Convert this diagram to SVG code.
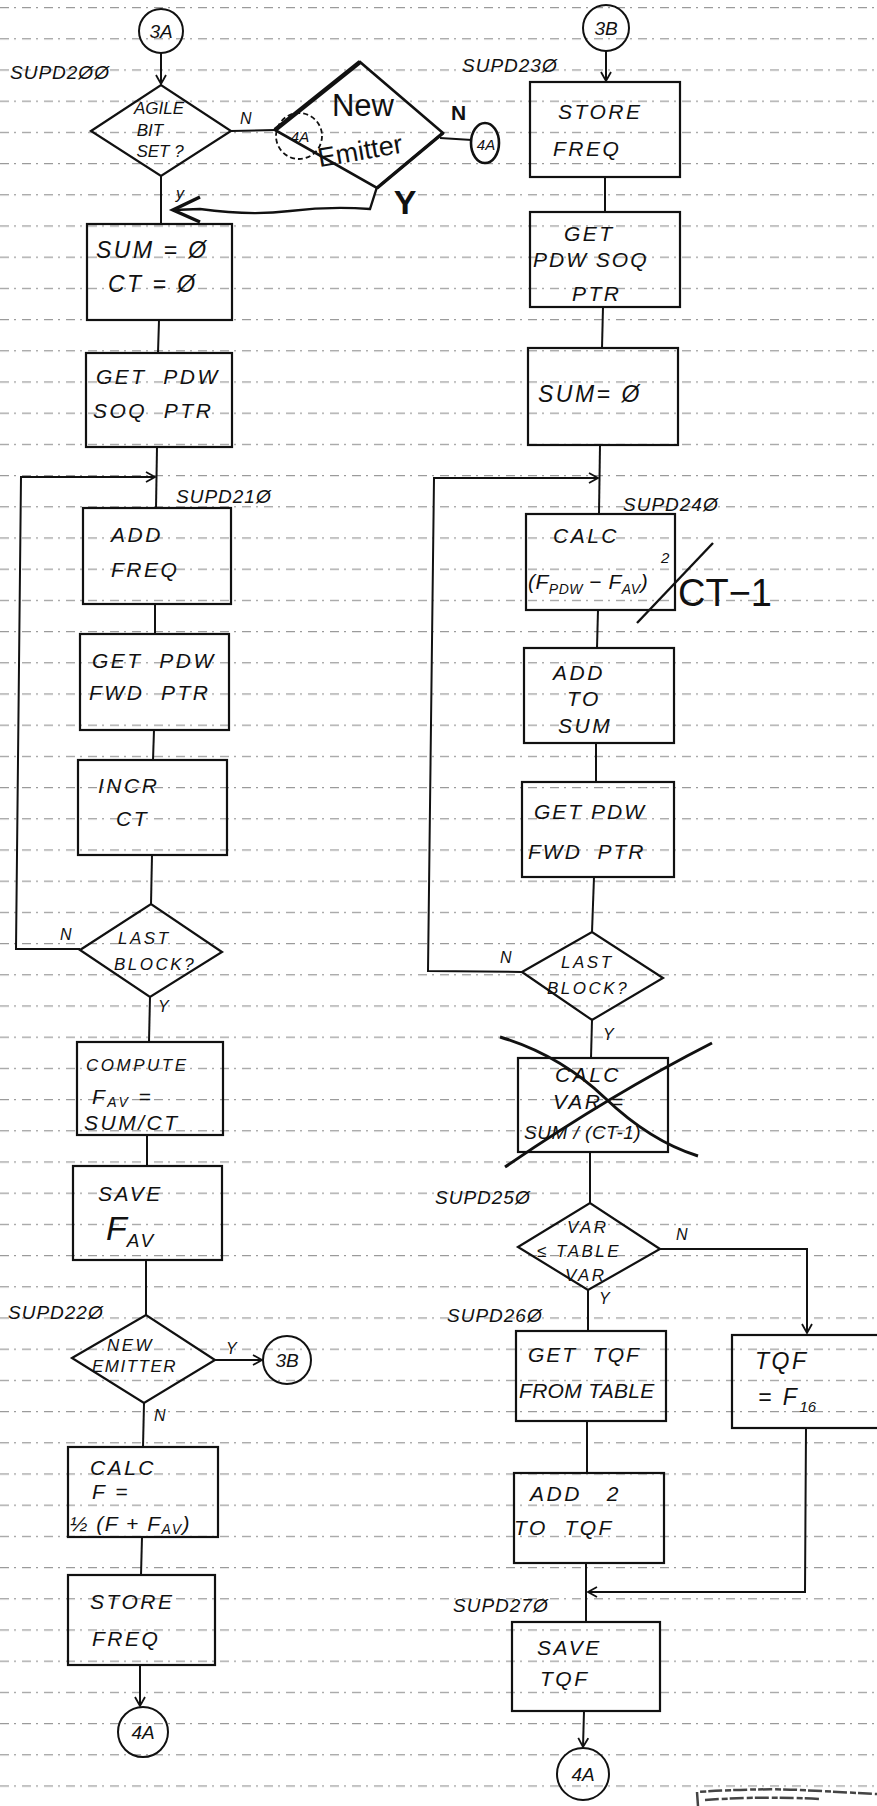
<svg xmlns="http://www.w3.org/2000/svg" width="877" height="1806" viewBox="0 0 877 1806" xml:space="preserve">
<defs>
<pattern id="grid" x="0" y="7" width="877" height="31.2" patternUnits="userSpaceOnUse">
<line x1="0" y1="0.5" x2="877" y2="0.5" stroke="#9a9a9a" stroke-width="1.2" stroke-dasharray="9 5 2 6"/>
</pattern>
<marker id="ah" markerWidth="12" markerHeight="12" refX="10" refY="6" orient="auto" markerUnits="userSpaceOnUse">
<path d="M1,1 L10,6 L1,11" fill="none" stroke="#111" stroke-width="1.8"/>
</marker>
<style>
.box{fill:none;stroke:#111;stroke-width:2.2}
.dia{fill:none;stroke:#111;stroke-width:2.2}
.cir{fill:none;stroke:#111;stroke-width:2}
.ln{fill:none;stroke:#111;stroke-width:2}
.t{font-family:"Liberation Sans",Arial,sans-serif;font-style:italic;font-size:21px;fill:#111;letter-spacing:2.5px;white-space:pre}
.s{font-size:17px}
.lb{font-family:"Liberation Sans",Arial,sans-serif;font-style:italic;font-size:19px;fill:#111;letter-spacing:1px}
.yn{font-family:"Liberation Sans",Arial,sans-serif;font-style:italic;font-size:16px;fill:#111}
.c{text-anchor:middle;letter-spacing:0}
</style>
</defs>
<rect width="877" height="1806" fill="#fff"/>
<rect width="877" height="1806" fill="url(#grid)"/>

<g id="connectors">
<line class="ln" x1="161" y1="53" x2="161" y2="84" marker-end="url(#ah)"/>
<line class="ln" x1="231" y1="131" x2="275" y2="130"/>
<line class="ln" x1="440" y1="138" x2="472" y2="140"/>
<path d="M377 187 L370 209 Q330 206 290 211 T200 209 L173 210" fill="none" stroke="#111" stroke-width="2.4"/>
<path d="M200 197 L173 210 L200 222" fill="none" stroke="#111" stroke-width="3.5"/>
<line class="ln" x1="161" y1="176" x2="161" y2="224"/>
<line class="ln" x1="159" y1="320" x2="158" y2="353"/>
<line class="ln" x1="157" y1="447" x2="156" y2="508"/>
<line class="ln" x1="155" y1="604" x2="155" y2="634"/>
<line class="ln" x1="154" y1="730" x2="153" y2="760"/>
<line class="ln" x1="152" y1="855" x2="151" y2="904"/>
<path class="ln" d="M80 949 L16 949 L21 477 L155 477" marker-end="url(#ah)"/>
<line class="ln" x1="150" y1="997" x2="149" y2="1042"/>
<line class="ln" x1="147" y1="1135" x2="147" y2="1166"/>
<line class="ln" x1="146" y1="1260" x2="146" y2="1315"/>
<line class="ln" x1="215" y1="1360" x2="262" y2="1360" marker-end="url(#ah)"/>
<line class="ln" x1="144" y1="1403" x2="143" y2="1447"/>
<line class="ln" x1="142" y1="1537" x2="141" y2="1575"/>
<line class="ln" x1="140" y1="1665" x2="140" y2="1706" marker-end="url(#ah)"/>

<line class="ln" x1="606" y1="51" x2="606" y2="81" marker-end="url(#ah)"/>
<line class="ln" x1="605" y1="177" x2="605" y2="212"/>
<line class="ln" x1="603" y1="307" x2="602" y2="348"/>
<line class="ln" x1="600" y1="445" x2="599" y2="514"/>
<line class="ln" x1="598" y1="610" x2="597" y2="648"/>
<line class="ln" x1="596" y1="743" x2="596" y2="782"/>
<line class="ln" x1="594" y1="877" x2="592" y2="932"/>
<path class="ln" d="M522 972 L428 971 L434 478 L598 478" marker-end="url(#ah)"/>
<line class="ln" x1="592" y1="1020" x2="591" y2="1058"/>
<line class="ln" x1="590" y1="1152" x2="590" y2="1203"/>
<path class="ln" d="M660 1249 L807 1249 L807 1333" marker-end="url(#ah)"/>
<line class="ln" x1="588" y1="1290" x2="588" y2="1331"/>
<line class="ln" x1="587" y1="1421" x2="587" y2="1473"/>
<path class="ln" d="M806 1428 L805 1592 L588 1592" marker-end="url(#ah)"/>
<line class="ln" x1="586" y1="1563" x2="586" y2="1622"/>
<line class="ln" x1="584" y1="1711" x2="583" y2="1747" marker-end="url(#ah)"/>
</g>

<g id="c3A">
<circle class="cir" cx="161" cy="31" r="22"/>
<text class="t c" x="161" y="38" style="font-size:19px">3A</text>
</g>
<text id="l200" class="lb" x="10" y="79">SUPD2ØØ</text>

<g id="agile">
<polygon class="dia" points="91,131 161,85 231,131 161,176"/>
<text class="t s c" x="159" y="114">AGILE</text>
<text class="t s c" x="150" y="136">BIT</text>
<text class="t s c" x="160" y="157">SET ?</text>
<text class="yn" x="240" y="124">N</text>
<text class="yn" x="176" y="199">y</text>
</g>

<g id="newEmitterHand">
<polygon points="275,130 360,62 443,133 377,188" fill="none" stroke="#111" stroke-width="2.6"/>
<line x1="275" y1="130" x2="360" y2="62" stroke="#111" stroke-width="4.5"/>
<line x1="443" y1="133" x2="377" y2="188" stroke="#111" stroke-width="3.5"/>
<text x="363" y="116" text-anchor="middle" style="font-family:'Liberation Sans',Arial,sans-serif;font-size:31px;fill:#111">New</text>
<text x="360" y="160" text-anchor="middle" transform="rotate(-10 360 150)" style="font-family:'Liberation Sans',Arial,sans-serif;font-size:27px;fill:#111">Emitter</text>
<text x="405" y="214" text-anchor="middle" style="font-family:'Liberation Sans',Arial,sans-serif;font-size:34px;font-weight:bold;fill:#111">Y</text>
</g>
<g id="c4A_dashed">
<circle cx="299" cy="136" r="23" fill="none" stroke="#111" stroke-width="1.8" stroke-dasharray="5 3"/>
<text class="t c" x="300" y="142" style="font-size:15px">4A</text>
</g>
<text id="nlabel2" x="451" y="120" style="font-family:'Liberation Sans',Arial,sans-serif;font-size:21px;font-weight:bold;fill:#111">N</text>
<g id="c4A_top">
<ellipse cx="485" cy="143" rx="14" ry="20" fill="none" stroke="#111" stroke-width="2.6"/>
<text class="t c" x="486" y="150" style="font-size:15px">4A</text>
</g>

<g id="sum0">
<rect class="box" x="87" y="224" width="145" height="96"/>
<text class="t" x="96" y="258" style="font-size:23px">SUM = Ø</text>
<text class="t" x="108" y="292" style="font-size:23px">CT = Ø</text>
</g>
<g id="getsoq1">
<rect class="box" x="86" y="353" width="146" height="94"/>
<text class="t" x="96" y="384">GET  PDW</text>
<text class="t" x="93" y="418">SOQ  PTR</text>
</g>
<text id="l210" class="lb" x="176" y="503">SUPD21Ø</text>
<g id="addfreq">
<rect class="box" x="83" y="508" width="148" height="96"/>
<text class="t" x="111" y="542">ADD</text>
<text class="t" x="111" y="577">FREQ</text>
</g>
<g id="getfwd1">
<rect class="box" x="80" y="634" width="149" height="96"/>
<text class="t" x="92" y="668">GET  PDW</text>
<text class="t" x="89" y="700">FWD  PTR</text>
</g>
<g id="incr">
<rect class="box" x="78" y="760" width="149" height="95"/>
<text class="t" x="98" y="793">INCR</text>
<text class="t" x="116" y="826">CT</text>
</g>
<g id="last1">
<polygon class="dia" points="80,950 151,904 222,952 150,997"/>
<text class="t s" x="118" y="944">LAST</text>
<text class="t s" x="114" y="970">BLOCK?</text>
<text class="yn" x="60" y="940">N</text>
<text class="yn" x="158" y="1012">Y</text>
</g>
<g id="compute">
<rect class="box" x="77" y="1042" width="146" height="93"/>
<text class="t s" x="86" y="1071">COMPUTE</text>
<text class="t" x="92" y="1104">F<tspan style="font-size:14px" dy="3">AV</tspan><tspan dy="-3"> =</tspan></text>
<text class="t" x="84" y="1130">SUM/CT</text>
</g>
<g id="savefav">
<rect class="box" x="73" y="1166" width="149" height="94"/>
<text class="t" x="98" y="1201">SAVE</text>
<text class="t" x="106" y="1240" style="font-size:34px;letter-spacing:0">F<tspan style="font-size:19px;letter-spacing:2px" dy="7">AV</tspan></text>
</g>
<text id="l220" class="lb" x="8" y="1319">SUPD22Ø</text>
<g id="newemitter">
<polygon class="dia" points="72,1358 146,1315 215,1360 144,1403"/>
<text class="t s" x="107" y="1351">NEW</text>
<text class="t s" x="92" y="1372" style="letter-spacing:1.5px">EMITTER</text>
<text class="yn" x="226" y="1354">Y</text>
<text class="yn" x="154" y="1421">N</text>
</g>
<g id="c3B_bottom">
<circle class="cir" cx="287" cy="1360" r="24"/>
<text class="t c" x="287" y="1367" style="font-size:19px">3B</text>
</g>
<g id="calcF">
<rect class="box" x="68" y="1447" width="150" height="90"/>
<text class="t" x="90" y="1475">CALC</text>
<text class="t" x="92" y="1499">F =</text>
<text class="t" x="70" y="1531" style="letter-spacing:1.5px">½ (F + F<tspan style="font-size:14px" dy="3">AV</tspan><tspan dy="-3">)</tspan></text>
</g>
<g id="storefreq1">
<rect class="box" x="68" y="1575" width="147" height="90"/>
<text class="t" x="90" y="1609">STORE</text>
<text class="t" x="92" y="1646">FREQ</text>
</g>
<g id="c4A_left">
<circle class="cir" cx="143" cy="1732" r="25"/>
<text class="t c" x="143" y="1739" style="font-size:19px">4A</text>
</g>

<g id="c3B_top">
<circle class="cir" cx="606" cy="28" r="23"/>
<text class="t c" x="606" y="35" style="font-size:19px">3B</text>
</g>
<text id="l230" class="lb" x="462" y="72">SUPD23Ø</text>
<g id="storefreq2">
<rect class="box" x="530" y="82" width="150" height="95"/>
<text class="t" x="558" y="119">STORE</text>
<text class="t" x="553" y="156">FREQ</text>
</g>
<g id="getsoq2">
<rect class="box" x="530" y="212" width="150" height="95"/>
<text class="t" x="564" y="241">GET</text>
<text class="t" x="533" y="267" style="letter-spacing:2px">PDW SOQ</text>
<text class="t" x="572" y="301">PTR</text>
</g>
<g id="sum0b">
<rect class="box" x="528" y="348" width="150" height="97"/>
<text class="t" x="538" y="402" style="font-size:23px">SUM= Ø</text>
</g>
<text id="l240" class="lb" x="623" y="511">SUPD24Ø</text>
<g id="calcdiff">
<rect class="box" x="526" y="514" width="149" height="96"/>
<text class="t" x="553" y="543">CALC</text>
<text class="t" x="528" y="589" style="letter-spacing:0.5px">(F<tspan style="font-size:14px" dy="5">PDW</tspan><tspan dy="-5"> − F</tspan><tspan style="font-size:14px" dy="5">AV</tspan><tspan dy="-5">)</tspan></text>
<text class="t" x="661" y="563" style="font-size:15px">2</text>
<line x1="713" y1="543" x2="637" y2="623" stroke="#111" stroke-width="2.4"/>
<text x="678" y="606" style="font-family:'Liberation Sans',Arial,sans-serif;font-size:38px;fill:#111">CT−1</text>
</g>
<g id="addtosum">
<rect class="box" x="524" y="648" width="150" height="95"/>
<text class="t" x="553" y="680">ADD</text>
<text class="t" x="567" y="706">TO</text>
<text class="t" x="558" y="733">SUM</text>
</g>
<g id="getfwd2">
<rect class="box" x="522" y="782" width="152" height="95"/>
<text class="t" x="534" y="819" style="letter-spacing:2px">GET PDW</text>
<text class="t" x="528" y="859" style="letter-spacing:2px">FWD  PTR</text>
</g>
<g id="last2">
<polygon class="dia" points="522,972 592,932 663,978 592,1020"/>
<text class="t s" x="561" y="968">LAST</text>
<text class="t s" x="547" y="994">BLOCK?</text>
<text class="yn" x="500" y="963">N</text>
<text class="yn" x="603" y="1040">Y</text>
</g>
<g id="calcvar">
<rect class="box" x="518" y="1058" width="150" height="94"/>
<text class="t" x="555" y="1082">CALC</text>
<text class="t" x="553" y="1109">VAR =</text>
<text class="t" x="524" y="1139" style="font-size:19px;letter-spacing:0.5px">SUM / (CT-1)</text>
<path d="M500 1037 Q560 1055 605 1098 T698 1156" fill="none" stroke="#111" stroke-width="3"/>
<path d="M712 1043 Q610 1095 505 1167" fill="none" stroke="#111" stroke-width="3"/>
</g>
<text id="l250" class="lb" x="435" y="1204">SUPD25Ø</text>
<g id="vartable">
<polygon class="dia" points="518,1247 590,1203 660,1249 588,1290"/>
<text class="t s" x="567" y="1233">VAR</text>
<text class="t s" x="537" y="1257">≤ TABLE</text>
<text class="t s" x="565" y="1281">VAR</text>
<text class="yn" x="676" y="1240">N</text>
<text class="yn" x="599" y="1304">Y</text>
</g>
<text id="l260" class="lb" x="447" y="1322">SUPD26Ø</text>
<g id="gettqf">
<rect class="box" x="516" y="1331" width="150" height="90"/>
<text class="t" x="528" y="1362" style="letter-spacing:2px">GET  TQF</text>
<text class="t" x="519" y="1398" style="letter-spacing:0.3px">FROM TABLE</text>
</g>
<g id="tqf16">
<rect class="box" x="732" y="1335" width="160" height="93"/>
<text class="t" x="755" y="1369" style="font-size:23px">TQF</text>
<text class="t" x="758" y="1405" style="font-size:23px">= F<tspan style="font-size:15px;letter-spacing:0" dy="7">16</tspan></text>
</g>
<g id="add2">
<rect class="box" x="514" y="1473" width="150" height="90"/>
<text class="t" x="530" y="1501">ADD   2</text>
<text class="t" x="514" y="1535">TO  TQF</text>
</g>
<text id="l270" class="lb" x="453" y="1612">SUPD27Ø</text>
<g id="savetqf">
<rect class="box" x="512" y="1622" width="148" height="89"/>
<text class="t" x="537" y="1655">SAVE</text>
<text class="t" x="540" y="1686">TQF</text>
</g>
<g id="c4A_right">
<circle class="cir" cx="583" cy="1774" r="26"/>
<text class="t c" x="583" y="1781" style="font-size:19px">4A</text>
</g>
<path id="stamp" d="M698 1806 L697 1792 Q760 1788 800 1790 T877 1794 M705 1800 Q760 1796 820 1799" fill="none" stroke="#444" stroke-width="2.5" stroke-dasharray="14 3 6 2"/>
</svg>
